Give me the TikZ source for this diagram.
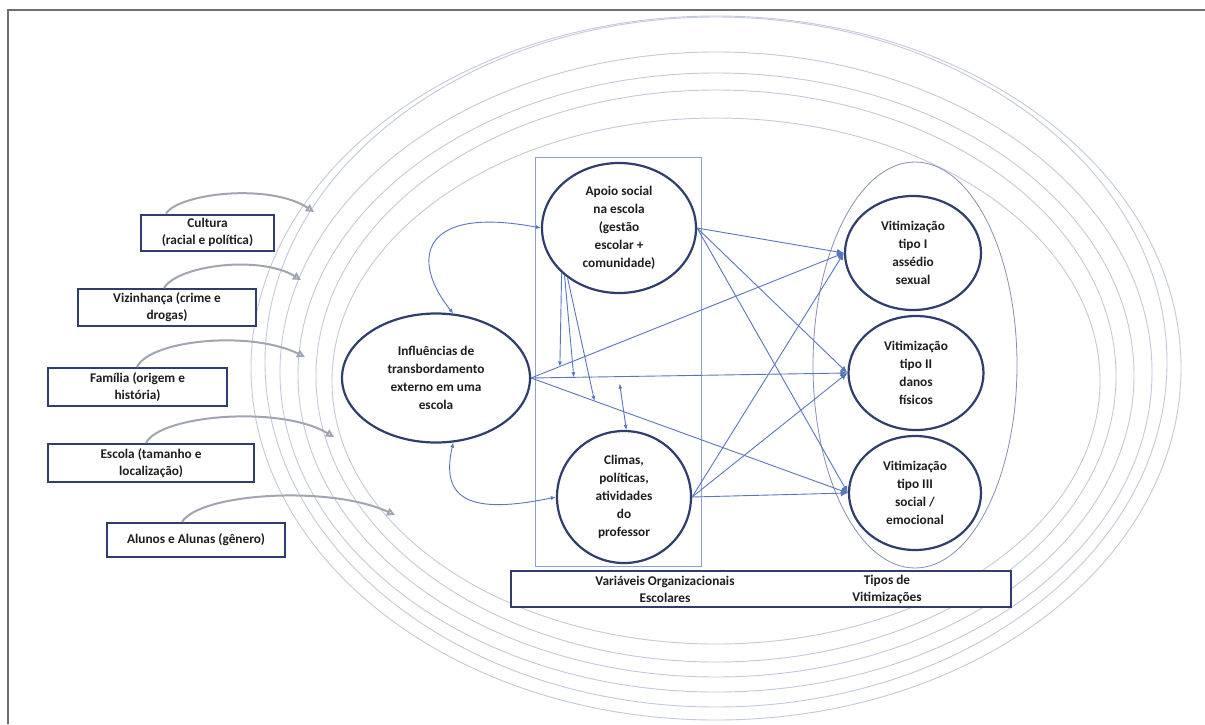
\documentclass[tikz,border=0pt]{standalone}
\usepackage{fontspec}
\setmainfont{Carlito}
\usetikzlibrary{arrows.meta,shapes.geometric,calc}
\definecolor{navy}{RGB}{47,62,110}
\definecolor{lineblue}{RGB}{88,118,192}
\definecolor{ringc}{RGB}{196,200,220}
\definecolor{framec}{RGB}{110,110,110}
\definecolor{curvegray}{RGB}{160,165,178}
\definecolor{txt}{RGB}{30,30,30}
\definecolor{vicring}{RGB}{135,143,178}
\definecolor{schoolrect}{RGB}{140,160,210}
\begin{document}
\begin{tikzpicture}[x=1pt,y=-1pt,
  ringline/.style={draw=ringc, line width=0.9pt},
  sbox/.style={draw=navy, line width=2pt, fill=white, align=center, text=txt,
    font=\bfseries\fontsize{13.3}{17}\selectfont, inner sep=0pt},
  circ/.style={ellipse, draw=navy, line width=2.2pt, fill=white, align=center, text=txt,
    font=\bfseries\fontsize{13.3}{18}\selectfont, inner sep=0pt},
  lbl/.style={align=center, text=txt, font=\bfseries\fontsize{13.3}{17}\selectfont, inner sep=0pt},
  link/.style={draw=lineblue, line width=0.9pt},
  vic/.style={link, -{Latex[length=7pt,width=6pt]}},
  mod/.style={link, -{Latex[length=5pt,width=4pt]}},
  feed/.style={draw=curvegray, line width=2pt, -{Triangle[open,length=8pt,width=8pt]}}
]
\useasboundingbox (0,0) rectangle (1205,724);
\fill[white] (0,0) rectangle (1205,724);
% frame
\draw[framec, line width=1.5pt] (8,724) -- (8,10) -- (1205,10);

% concentric rings
\draw[ringline] (716,381) ellipse [x radius=384, y radius=263];
\draw[ringline] (716,376) ellipse [x radius=400, y radius=286];
\draw[ringline] (716,375) ellipse [x radius=418, y radius=302];
\draw[ringline] (716,372) ellipse [x radius=436, y radius=320];
\draw[ringline] (716,362) ellipse [x radius=451, y radius=345];
\draw[ringline] (716,368) ellipse [x radius=465, y radius=352];

% school rectangle and victim ellipse
\draw[schoolrect, line width=0.8pt] (535,157) rectangle (701,566);
\draw[vicring, line width=0.8pt] (915,365) ellipse [x radius=102, y radius=203];

% left boxes
\node[sbox, minimum width=133pt, minimum height=36pt] (cult) at (207.5,232.5) {Cultura\\(racial e política)};
\node[sbox, minimum width=178pt, minimum height=37pt] (viz) at (167,307.5) {Vizinhança (crime e\\drogas)};
\node[sbox, minimum width=179pt, minimum height=38pt] (fam) at (137.5,387) {Família (origem e\\história)};
\node[sbox, minimum width=206pt, minimum height=38pt] (esc) at (151,463) {Escola (tamanho e\\localização)};
\node[sbox, minimum width=178pt, minimum height=34pt] (alu) at (196,540) {Alunos e Alunas (gênero)};

% feed curves
\coordinate (e1) at (314,212);
\coordinate (e2) at (301,280);
\coordinate (e3) at (305,357);
\coordinate (e4) at (334,437);
\coordinate (e5) at (395,515);
\draw[feed] ($(cult.north west)+(26,0)$) .. controls (180,193) and (270,183) .. (e1);
\draw[feed] ($(viz.north west)+(87,0)$) .. controls (178,265) and (260,255) .. (e2);
\draw[feed] ($(fam.north west)+(90,0)$) .. controls (150,340) and (250,330) .. (e3);
\draw[feed] ($(esc.north west)+(99,0)$) .. controls (160,415) and (280,405) .. (e4);
\draw[feed] ($(alu.north west)+(76,0)$) .. controls (200,493) and (330,485) .. (e5);

% central nodes
\node[circ, minimum width=188pt, minimum height=129pt] (inf) at (436,378) {Influências de\\transbordamento\\externo em uma\\escola};
\node[circ, minimum width=154pt, minimum height=130pt] (apoio) at (619,228) {Apoio social\\na escola\\(gestão\\escolar +\\comunidade)};
\node[circ, minimum width=134pt, minimum height=132pt] (clim) at (624,497) {Climas,\\políticas,\\atividades\\do\\professor};
\node[circ, minimum width=136pt, minimum height=114pt] (v1) at (913,253) {Vitimização\\tipo I\\assédio\\sexual};
\node[circ, minimum width=135pt, minimum height=114pt] (v2) at (916,373) {Vitimização\\tipo II\\danos\\físicos};
\node[circ, minimum width=132pt, minimum height=114pt] (v3) at (915,493) {Vitimização\\tipo III\\social /\\emocional};

% bottom label box
\node[sbox, minimum width=500pt, minimum height=36pt] (bot) at (761,589) {};
\node[lbl] (botl) at (665,589) {Variáveis Organizacionais\\Escolares};
\node[lbl] (botr) at (887,589) {Tipos de\\Vitimizações};

% connectors to victimizations
\foreach \s in {inf, apoio, clim}{
  \foreach \t in {v1, v2, v3}{
    \draw[vic] (\s.east) -- (\t.west);
  }
}

% curved double links
\draw[link, {Latex[length=5pt,width=4pt]}-{Latex[length=5pt,width=4pt]}] (inf.75) .. controls (410,260) and (420,205) .. (apoio.west);
\draw[link, {Latex[length=5pt,width=4pt]}-{Latex[length=5pt,width=4pt]}] (inf.285) .. controls (440,500) and (470,515) .. (clim.west);

% moderation arrows
\coordinate (m1) at ($(inf.east)!0.092!(v1.west)$);
\coordinate (m2) at ($(inf.east)!0.135!(v2.west)$);
\coordinate (m3) at ($(inf.east)!0.2!(v3.west)$);
\coordinate (m4) at ($(inf.east)!0.28!(v2.west)+(0,7)$);
\draw[mod] (apoio.218) -- (m1);
\draw[mod] (apoio.221) -- (m2);
\draw[mod] (apoio.224) -- (m3);
\draw[link, {Latex[length=5pt,width=4pt]}-{Latex[length=5pt,width=4pt]}] (clim.88) -- (m4);
\end{tikzpicture}
\end{document}
